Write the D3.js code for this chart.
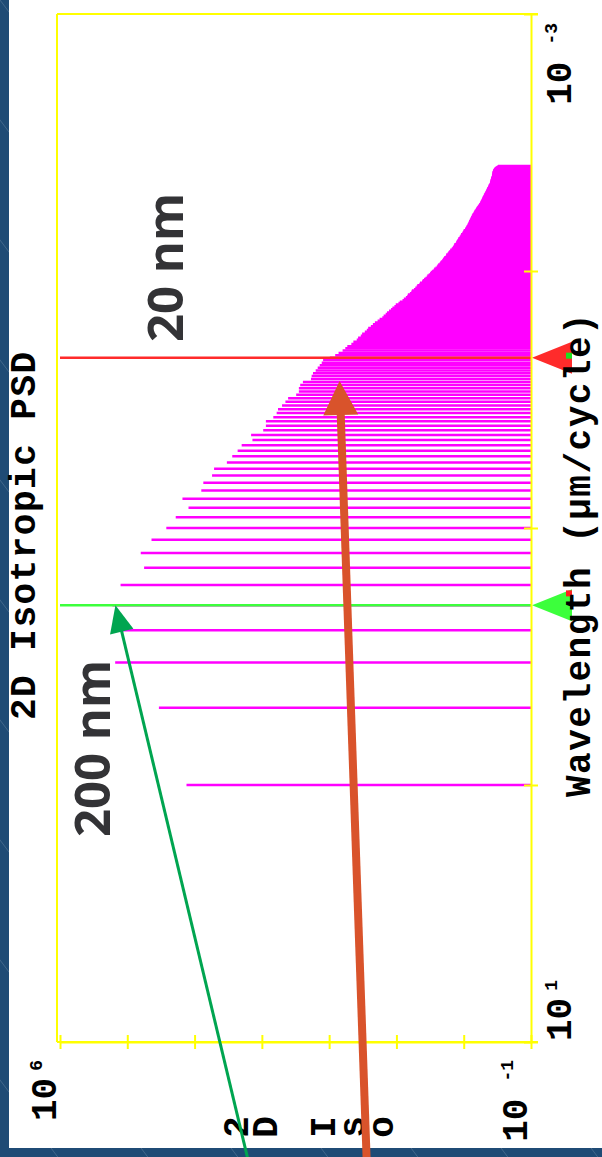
<!DOCTYPE html>
<html>
<head>
<meta charset="utf-8">
<script src="https://cdn.jsdelivr.net/npm/d3@7"></script>
<style>
  html, body { margin: 0; padding: 0; background: #1f4b75; }
  svg { display: block; }
</style>
</head>
<body>
<svg id="chart" width="602" height="1157"></svg>
<script>
// ---- data -------------------------------------------------------------
// Scan length of the measured profile (µm); harmonic n sits at wavelength L/n.
const scanLengthUm = 1;

// log10 of the 2D isotropic PSD for harmonics n = 1 .. 256
const psdLog10 = [
  4.12, 4.53, 5.18, 5.11, 5.22, 5.10, 4.75, 4.80, 4.64, 4.42,
  4.28, 4.09, 4.18, 3.90, 3.87, 3.74, 3.71, 3.52, 3.44, 3.36,
  3.30, 3.14, 3.16, 2.98, 2.94, 2.94, 2.83, 2.78, 2.76, 2.70,
  2.65, 2.61, 2.49, 2.45, 2.45, 2.43, 2.39, 2.27, 2.26, 2.24,
  2.20, 2.17, 2.14, 2.11, 2.09, 1.99, 1.91, 1.86, 1.80, 1.76,
  1.73, 1.67, 1.64, 1.59, 1.57, 1.53, 1.51, 1.47, 1.44, 1.42,
  1.38, 1.35, 1.32, 1.28, 1.25, 1.21, 1.19, 1.16, 1.14, 1.11,
  1.08, 1.06, 1.03, 1.01, 0.97, 0.95, 0.91, 0.89, 0.86, 0.84,
  0.83, 0.80, 0.78, 0.77, 0.74, 0.72, 0.70, 0.69, 0.66, 0.65,
  0.62, 0.61, 0.59, 0.57, 0.55, 0.54, 0.52, 0.50, 0.49, 0.47,
  0.45, 0.44, 0.42, 0.40, 0.39, 0.38, 0.36, 0.35, 0.34, 0.32,
  0.31, 0.30, 0.29, 0.27, 0.26, 0.26, 0.24, 0.23, 0.22, 0.20,
  0.20, 0.18, 0.17, 0.16, 0.15, 0.14, 0.14, 0.12, 0.11, 0.11,
  0.10, 0.09, 0.08, 0.08, 0.06, 0.06, 0.05, 0.04, 0.04, 0.02,
  0.02, 0.01, 0.00, 0.00, -0.02, -0.02, -0.03, -0.04, -0.04, -0.05,
  -0.06, -0.06, -0.07, -0.07, -0.08, -0.08, -0.09, -0.09, -0.10, -0.10,
  -0.11, -0.11, -0.12, -0.12, -0.13, -0.13, -0.14, -0.15, -0.15, -0.16,
  -0.16, -0.17, -0.18, -0.18, -0.19, -0.19, -0.20, -0.21, -0.21, -0.22,
  -0.23, -0.23, -0.24, -0.25, -0.25, -0.25, -0.26, -0.26, -0.27, -0.27,
  -0.28, -0.28, -0.28, -0.29, -0.29, -0.30, -0.30, -0.30, -0.31, -0.31,
  -0.32, -0.32, -0.33, -0.33, -0.33, -0.34, -0.34, -0.35, -0.35, -0.35,
  -0.36, -0.36, -0.37, -0.37, -0.37, -0.38, -0.38, -0.39, -0.39, -0.39,
  -0.39, -0.40, -0.40, -0.40, -0.40, -0.40, -0.41, -0.41, -0.41, -0.41,
  -0.41, -0.42, -0.42, -0.42, -0.42, -0.42, -0.42, -0.43, -0.43, -0.43,
  -0.43, -0.43, -0.43, -0.44, -0.44, -0.44, -0.44, -0.45, -0.45, -0.46,
  -0.46, -0.47, -0.48, -0.49, -0.50, -0.51
];

const wavelengthTicks = [1e-3, 1e-2, 1e-1, 1, 10];
const psdTicks = [1e6, 1e5, 1e4, 1e3, 1e2, 1e1, 1, 1e-1];

const wavelengthTickLabels = [
  { value: 1e-3, exponent: "-3" },
  { value: 10, exponent: "1" }
];
const psdTickLabels = [
  { value: 1e6, exponent: "6" },
  { value: 1e-1, exponent: "-1" }
];

// cursor markers, placed on harmonics of the scan
const cursors = [
  { harmonic: 5, line: "#3cff3c", accent: "#ff2020" },
  { harmonic: 46, line: "#ff2b2b", accent: "#20e020" }
];

// callouts: arrow tip in data units (PSD, wavelength µm), tail offset in px
const callouts = [
  { text: "200 nm", tipPsd: 1.5e5, tipWavelength: 0.2, tail: [132, 552], color: "#00a550", width: 3, head: [27, 12] },
  { text: "20 nm", tipPsd: 70, tipWavelength: 0.0268, tail: [27, 776], color: "#d9532b", width: 8, head: [34, 17.5] }
];

const titleText = "2D Isotropic PSD";
const xAxisTitle = "Wavelength (µm/cycle)";
const yAxisTitleVisible = ["2", "D", " ", "I", "s", "o"];

// ---- layout -----------------------------------------------------------
const W = 602, H = 1157;
const panel = { x: 9, y: 0, w: W - 9, h: 1148 };
const plot = { left: 57, right: 531, top: 14, bottom: 1042, overhang: 7 };
const mono = "'Liberation Mono', 'DejaVu Sans Mono', monospace";
const sans = "'Open Sans', 'Noto Sans', sans-serif";

const svg = d3.select("#chart");

// wavelength runs down the page, PSD grows toward the left
const y = d3.scaleLog().domain([1e-3, 10]).range([plot.top, plot.bottom]);
const x = d3.scaleLog().domain([1e-1, 1e6]).range([plot.right, 60]);

// ---- backdrop ---------------------------------------------------------
svg.append("rect").attr("width", W).attr("height", H).attr("fill", "#1f4b75");
svg.append("g").selectAll("line")
  .data(d3.range(-1080, W, 90))
  .join("line")
  .attr("x1", d => d).attr("y1", 0)
  .attr("x2", d => d + H * 0.75).attr("y2", H)
  .attr("stroke", "rgba(255,255,255,0.16)").attr("stroke-width", 1);
svg.append("rect")
  .attr("x", panel.x).attr("y", panel.y)
  .attr("width", panel.w).attr("height", panel.h)
  .attr("fill", "#ffffff");

// ---- spectrum bars ----------------------------------------------------
const bars = psdLog10.map((v, i) => ({
  wavelength: scanLengthUm / (i + 1),
  psd: Math.pow(10, v)
}));

svg.append("g").attr("class", "bars")
  .selectAll("line")
  .data(bars)
  .join("line")
  .attr("x1", x(1e-1))
  .attr("x2", d => x(d.psd))
  .attr("y1", d => y(d.wavelength))
  .attr("y2", d => y(d.wavelength))
  .attr("stroke", "#ff00ff")
  .attr("stroke-width", 2.5);

// ---- cursors ----------------------------------------------------------
const cursorG = svg.append("g").attr("class", "cursors");
cursors.forEach(c => {
  const cy = y(scanLengthUm / c.harmonic);
  cursorG.append("line")
    .attr("x1", x(1e6)).attr("x2", x(1e-1))
    .attr("y1", cy).attr("y2", cy)
    .attr("stroke", c.line).attr("stroke-width", 2.5);
  const tipX = plot.right + 1, baseX = plot.right + 41;
  cursorG.append("path")
    .attr("d", `M${tipX},${cy}L${baseX},${cy - 16}L${baseX},${cy + 16}Z`)
    .attr("fill", c.line);
  cursorG.append("rect")
    .attr("x", baseX - 6).attr("y", c.harmonic === 5 ? cy - 15 : cy - 5)
    .attr("width", 6).attr("height", 6)
    .attr("fill", c.accent);
});

// ---- frame and axes ---------------------------------------------------
const yellow = "#ffff00";
const frame = svg.append("g").attr("class", "frame")
  .attr("stroke", yellow).attr("stroke-width", 2).attr("fill", "none");
frame.append("line").attr("x1", plot.left).attr("x2", plot.left).attr("y1", plot.top).attr("y2", plot.bottom);
frame.append("line").attr("x1", plot.left).attr("x2", plot.right + plot.overhang).attr("y1", plot.top).attr("y2", plot.top);
frame.append("line").attr("x1", plot.left).attr("x2", plot.right + plot.overhang).attr("y1", plot.bottom).attr("y2", plot.bottom);

const gWave = svg.append("g")
  .attr("transform", `translate(${plot.right},0)`)
  .call(d3.axisRight(y).tickValues(wavelengthTicks).tickSize(7).tickSizeOuter(0).tickFormat(""));
gWave.selectAll(".tick line").attr("x1", -7).attr("x2", 7);
gWave.selectAll("path, line").attr("stroke", yellow).attr("stroke-width", 2);

const gPsd = svg.append("g")
  .attr("transform", `translate(0,${plot.bottom})`)
  .call(d3.axisBottom(x).tickValues(psdTicks).tickSize(7).tickSizeOuter(0).tickFormat(""));
gPsd.selectAll(".tick line").attr("y1", -7).attr("y2", 7);
gPsd.selectAll("path, line").attr("stroke", yellow).attr("stroke-width", 2);

// ---- text helpers -----------------------------------------------------
function upText(px, py, anchor) {
  return svg.append("text")
    .attr("transform", `translate(${px},${py}) rotate(-90)`)
    .attr("text-anchor", anchor);
}

function powerLabel(px, py, anchor, exponent) {
  const t = upText(px, py, anchor)
    .attr("font-family", mono).attr("font-weight", "bold")
    .attr("font-size", 36).attr("fill", "#000");
  t.append("tspan").text("10");
  t.append("tspan")
    .attr("dx", exponent.startsWith("-") ? 17 : 7)
    .attr("dy", -14)
    .attr("font-size", 18)
    .text(exponent);
}

// wavelength axis labels: first starts at its tick, last ends near the frame
wavelengthTickLabels.forEach((d, i) => {
  const first = i === wavelengthTickLabels.length - 1;
  powerLabel(571, first ? y(d.value) - 1 : y(d.value) + 9, first ? "start" : "end", d.exponent);
});

// PSD axis labels sit just left of their ticks
psdTickLabels.forEach(d => {
  powerLabel(x(d.value) - 4, 1060, "end", d.exponent);
});

// title and wavelength axis title
upText(35, 720, "start")
  .attr("font-family", mono).attr("font-weight", "bold")
  .attr("font-size", 36).attr("letter-spacing", 1.5)
  .attr("fill", "#000").text(titleText);

upText(590, 797, "start")
  .attr("font-family", mono).attr("font-weight", "bold")
  .attr("font-size", 36).attr("letter-spacing", 1.5)
  .attr("fill", "#000").text(xAxisTitle);

// stacked PSD axis title (only its first characters fit in the panel)
yAxisTitleVisible.forEach((ch, i) => {
  if (ch === " ") return;
  upText(235 + i * 29, 1127, "middle")
    .attr("font-family", mono).attr("font-weight", "bold")
    .attr("font-size", 36).attr("dy", "0.35em")
    .attr("fill", "#000").text(ch);
});

// ---- callouts ---------------------------------------------------------
const calloutText = [
  { px: 110, py: 837 },
  { px: 183, py: 342 }
];

callouts.forEach((c, i) => {
  const tip = [x(c.tipPsd), y(c.tipWavelength)];
  const tail = [tip[0] + c.tail[0], tip[1] + c.tail[1]];
  const len = Math.hypot(c.tail[0], c.tail[1]);
  const ux = -c.tail[0] / len, uy = -c.tail[1] / len;     // unit vector toward the tip
  const base = [tip[0] - ux * c.head[0], tip[1] - uy * c.head[0]];
  const px = -uy, py = ux;

  svg.append("line")
    .attr("x1", tail[0]).attr("y1", tail[1])
    .attr("x2", base[0] + ux * 2).attr("y2", base[1] + uy * 2)
    .attr("stroke", c.color).attr("stroke-width", c.width);
  svg.append("path")
    .attr("d", `M${tip[0]},${tip[1]}` +
               `L${base[0] + px * c.head[1]},${base[1] + py * c.head[1]}` +
               `L${base[0] - px * c.head[1]},${base[1] - py * c.head[1]}Z`)
    .attr("fill", c.color);

  upText(calloutText[i].px, calloutText[i].py, "start")
    .attr("font-family", sans).attr("font-weight", 700)
    .attr("font-size", 49).attr("fill", "#333336")
    .text(c.text);
});
</script>
</body>
</html>
